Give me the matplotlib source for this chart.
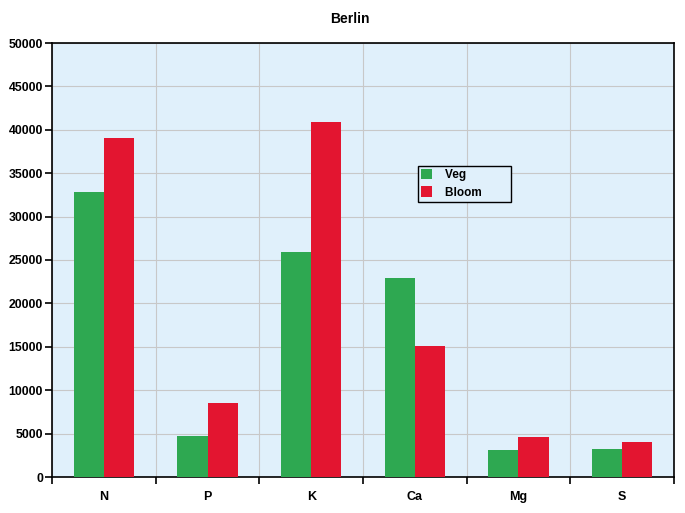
import numpy as np
import matplotlib
matplotlib.use("Agg")
import matplotlib.pyplot as plt

# nutrient values
nutrients = ["N", "P", "K", "Ca", "Mg", "S"]
veg = [32800, 4700, 25900, 22900, 3100, 3200]
bloom = [39000, 8500, 40900, 15100, 4600, 4000]

plt.rcParams['font.family'] = ['Liberation Sans', 'DejaVu Sans']
plt.rcParams['font.weight'] = 'bold'

fig = plt.figure(figsize=(6.85, 5.13), dpi=100)
ax = fig.add_axes([52 / 685, 1 - 477 / 513, 622 / 685, 434 / 513])
ax.set_facecolor('#e0f0fb')

x = np.arange(len(nutrients))
w = 0.29
ax.bar(x - w / 2, veg, w, color='#2ea851', label='Veg', zorder=3)
ax.bar(x + w / 2, bloom, w, color='#e31530', label='Bloom', zorder=3)

ax.set_xlim(-0.5, len(nutrients) - 0.5)
ax.set_ylim(0, 50000)
ax.set_yticks(np.arange(0, 50001, 5000))
ax.set_xticks(x)
ax.set_xticklabels(nutrients)
# category boundaries carry the grid and tick marks
ax.set_xticks(np.arange(-0.5, len(nutrients)), minor=True)
ax.tick_params(axis='x', which='major', length=0, pad=10, labelsize=9)
ax.tick_params(axis='x', which='minor', length=5, width=1.2, direction='out')
ax.tick_params(axis='y', length=5, width=1.2, labelsize=8.8, pad=1.5)
ax.grid(True, which='minor', axis='x', color='#c8c8c8', lw=0.8, zorder=0)
ax.grid(True, which='major', axis='y', color='#c8c8c8', lw=0.8, zorder=0)
for s in ax.spines.values():
    s.set_linewidth(1.2)

leg = ax.legend(loc='upper left', bbox_to_anchor=(0.588, 0.717), frameon=True,
                fancybox=False, edgecolor='black', facecolor='#e0f0fb',
                framealpha=1, fontsize=8.5, handlelength=1.0, handleheight=1.0,
                borderpad=0.25, labelspacing=0.45, handletextpad=1.1,
                borderaxespad=0)
leg.get_frame().set_linewidth(1.0)
for t in leg.get_texts():
    t.set_text(t.get_text() + '        ')

fig.text(350 / 685, 1 - 19 / 513, 'Berlin', ha='center', va='center',
         fontsize=10, fontweight='bold')

fig.savefig('out.png', dpi=100)
